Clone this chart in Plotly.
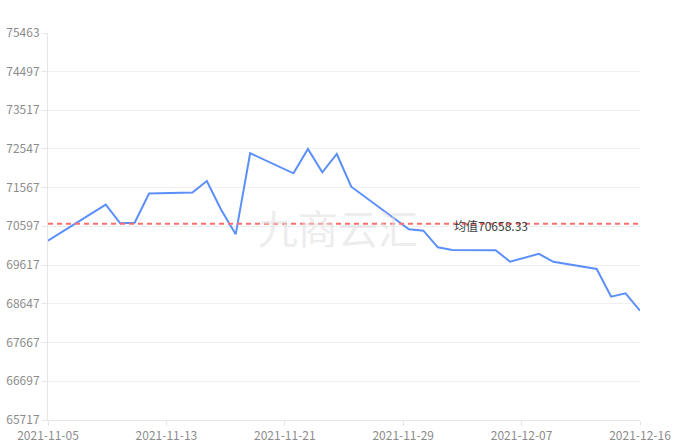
import plotly.graph_objects as go

dates = [
    "2021-11-05", "2021-11-08", "2021-11-09", "2021-11-10", "2021-11-11", "2021-11-12",
    "2021-11-15", "2021-11-16", "2021-11-17", "2021-11-18", "2021-11-19",
    "2021-11-22", "2021-11-23", "2021-11-24", "2021-11-25", "2021-11-26",
    "2021-11-30", "2021-12-01", "2021-12-02", "2021-12-03",
    "2021-12-06", "2021-12-07", "2021-12-09", "2021-12-10",
    "2021-12-13", "2021-12-14", "2021-12-15", "2021-12-16",
]
values = [
    70232, 70905, 71139, 70670, 70686, 71421,
    71446, 71736, 71005, 70393, 72436,
    71930, 72542, 71955, 72416, 71592,
    70519, 70484, 70066, 69998,
    69995, 69703, 69902, 69700,
    69520, 68822, 68908, 68469,
]
mean_value = 70658.33
y_ticks = [65717, 66697, 67667, 68647, 69617, 70597, 71567, 72547, 73517, 74497, 75463]
x_start, x_end = "2021-11-05", "2021-12-16"

font = "Noto Sans CJK SC, Microsoft YaHei, sans-serif"
tick_col = "#8c8c8c"
grid_col = "#f0f0f0"

fig = go.Figure()
fig.add_trace(go.Scatter(
    x=dates, y=values, mode="lines",
    line=dict(color="#5b8ff9", width=2),
    showlegend=False,
))
fig.add_trace(go.Scatter(
    x=[x_start, x_end], y=[mean_value, mean_value], mode="lines",
    line=dict(color="#ff6e6e", width=2, dash="5px,4px"),
    showlegend=False,
))

fig.add_annotation(
    x=0.748, xref="paper", xanchor="center", y=mean_value, yref="y", yshift=-2,
    text=f"均值{mean_value:.2f}", showarrow=False,
    font=dict(family=font, size=12, color="#404040"),
)
# watermark
fig.add_annotation(
    x=0.49, xref="paper", xanchor="center", y=0.5, yref="paper",
    text="九商云汇", showarrow=False,
    font=dict(family=font, size=40, color="rgba(222,222,222,0.55)"),
)

fig.update_xaxes(
    type="date", range=[x_start, x_end],
    tick0=x_start, dtick=8.2 * 86400000, tickformat="%Y-%m-%d",
    showgrid=False, showline=True, linecolor="#e6e6e6", linewidth=1,
    ticks="outside", ticklen=5, tickcolor="#e6e6e6",
    tickfont=dict(family=font, size=12, color=tick_col),
    zeroline=False, automargin=False,
)
fig.update_yaxes(
    range=[y_ticks[0], y_ticks[-1]], tickvals=y_ticks, tickformat="d",
    showgrid=True, gridcolor=grid_col, gridwidth=1,
    showline=True, linecolor="#e6e6e6", linewidth=1,
    ticks="outside", ticklen=5, tickcolor="#e6e6e6",
    tickfont=dict(family=font, size=12, color=tick_col),
    zeroline=False, automargin=False,
)
fig.update_layout(
    width=677, height=447,
    margin=dict(l=48, r=37, t=33, b=27),
    plot_bgcolor="white", paper_bgcolor="white",
)

fig.write_html(
    "out.html",
    config={"displayModeBar": False},
    post_script="document.body.style.margin = '0';",
)
